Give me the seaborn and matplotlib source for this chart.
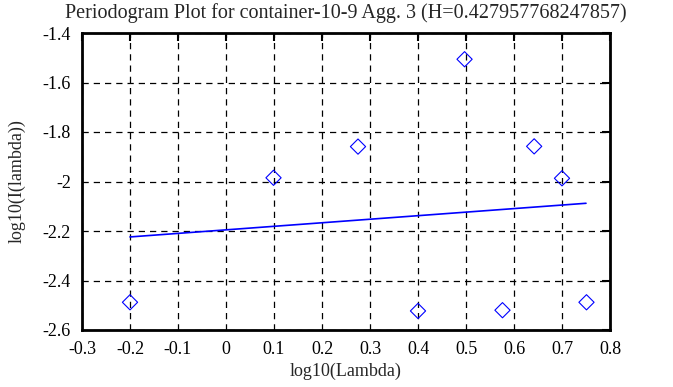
import numpy as np
import pandas as pd
import matplotlib
matplotlib.use("Agg")
import matplotlib.pyplot as plt
import seaborn as sns
from matplotlib.ticker import FuncFormatter

# valores
log_lambda = [-0.2, 0.099, 0.275, 0.497, 0.642, 0.700, 0.400, 0.576, 0.751]
log_i = [-2.488, -1.985, -1.859, -1.506, -1.858, -1.987, -2.523, -2.520, -2.488]
fit_x = [-0.2, 0.75]
fit_y = [-2.224, -2.088]

titulo = "Periodogram Plot for container-10-9 Agg. 3 (H=0.427957768247857)"

sns.set_style("white")
plt.rcParams["font.family"] = ["Liberation Serif", "DejaVu Serif"]
plt.rcParams["axes.unicode_minus"] = False

df = pd.DataFrame({"x": log_lambda, "y": log_i})
df_fit = pd.DataFrame({"x": fit_x, "y": fit_y})

fig = plt.figure(figsize=(6.73, 3.87), dpi=100)
ax = fig.add_axes([82 / 673, 1 - 330 / 387, 528 / 673, 297 / 387])

sns.scatterplot(data=df, x="x", y="y", marker="D", s=60, facecolors="none",
                edgecolors="blue", linewidth=0.8, ax=ax, zorder=3)
sns.lineplot(data=df_fit, x="x", y="y", color="blue", linewidth=1.2, ax=ax, zorder=3)

ax.set_xlim(-0.3, 0.8)
ax.set_ylim(-2.6, -1.4)
ax.set_xticks(np.arange(-0.3, 0.81, 0.1))
ax.set_yticks(np.arange(-2.6, -1.39, 0.2))
fmt = FuncFormatter(lambda v, p: f"{round(v, 2):g}")
ax.xaxis.set_major_formatter(fmt)
ax.yaxis.set_major_formatter(fmt)

ax.grid(True, color="black", linestyle=(0, (5, 4)), linewidth=0.9)
ax.tick_params(direction="in", length=6, width=1.5, top=True, right=True,
               labelsize=13, colors="black", pad=8)
for s in ax.spines.values():
    s.set_color("black")
    s.set_linewidth(2)

ax.set_title(titulo, fontsize=14.5, pad=11)
ax.set_xlabel("log10(Lambda)", fontsize=13, labelpad=3)
ax.set_ylabel("log10(I(lambda))", fontsize=13, labelpad=12)

fig.savefig("out.png", dpi=100)
